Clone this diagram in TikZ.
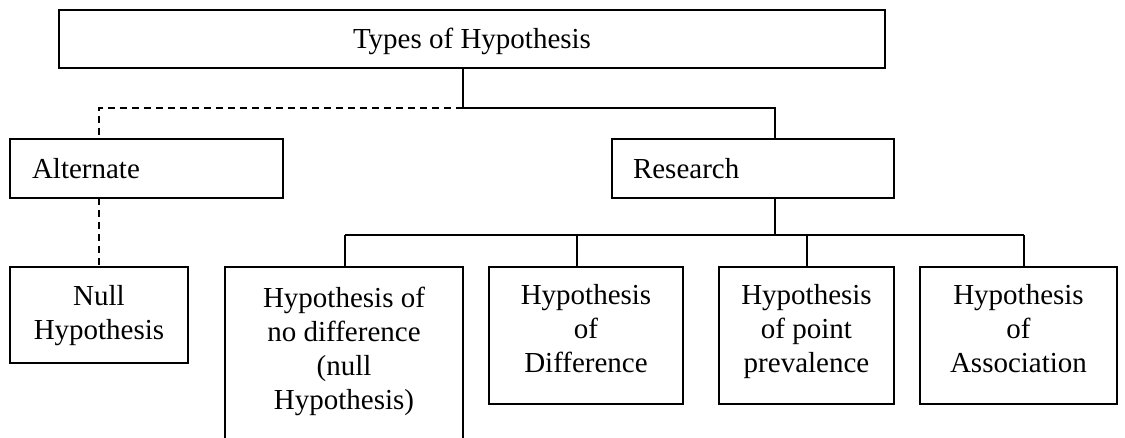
\documentclass[tikz,border=0pt]{standalone}
\usepackage{fontspec}
\setmainfont{Liberation Serif}
\usetikzlibrary{positioning}
\begin{document}
\begin{tikzpicture}[x=1pt,y=-1pt,
  every node/.style={font=\fontsize{29}{34}\selectfont},
  box/.style={draw=black, line width=1.7pt, rectangle, inner sep=0pt, outer sep=0pt},
  lbl/.style={inner sep=0pt, outer sep=0pt, align=center},
  link/.style={line width=1.3pt},
  dlink/.style={line width=1.3pt, dash pattern=on 7pt off 5pt}]
\useasboundingbox (0,0) rectangle (1125,438);

% root
\node[box, minimum width=826pt, minimum height=58pt, text height=20pt, text depth=0pt]
  (top) at (472,39) {Types of Hypothesis};

% second level
\node[box, minimum width=273pt, minimum height=59pt, text width=229pt, align=left, inner xsep=22pt]
  (alt) at (146.5,168.5) {Alternate};
\node[box, minimum width=282pt, minimum height=59pt, text width=240pt, align=left, inner xsep=21pt]
  (res) at (753,168.5) {Research};

% third level boxes
\node[box, minimum width=178pt, minimum height=96pt] (null) at (99,315) {};
\node[box, minimum width=238pt, minimum height=180pt] (b1) at (344,357) {};
\node[box, minimum width=194pt, minimum height=137pt] (b2) at (586,335.5) {};
\node[box, minimum width=175pt, minimum height=137pt] (b3) at (806.5,335.5) {};
\node[box, minimum width=197pt, minimum height=137pt] (b4) at (1018.5,335.5) {};

% their labels
\node[lbl, below=18pt of null.north] (t0) {Null\\Hypothesis};
\node[lbl, below=20pt of b1.north] (t1) {Hypothesis of\\no difference\\(null\\Hypothesis)};
\node[lbl, below=17.5pt of b2.north] (t2) {Hypothesis\\of\\Difference};
\node[lbl, below=17.5pt of b3.north] (t3) {Hypothesis\\of point\\prevalence};
\node[lbl, below=17.5pt of b4.north] (t4) {Hypothesis\\of\\Association};

% junctions
\coordinate (jt) at (463,108);
\coordinate (ja) at (99,108);
\coordinate (jr) at (775,108);
\coordinate (jb) at (775,235);
\coordinate (c1) at (345,235);
\coordinate (c2) at (577,235);
\coordinate (c3) at (807,235);
\coordinate (c4) at (1024,235);

% connectors
\draw[link] (top.south -| jt) -- (jt) -- (jr) -- (jr |- res.north);
\draw[dlink] (jt) -- (ja) -- (ja |- alt.north);
\draw[dlink] (null.north |- alt.south) -- (null.north);
\draw[link] (jb |- res.south) -- (jb);
\draw[link] (c1) -- (c4);
\foreach \i in {1,2,3,4} {
  \draw[link] (c\i) -- (c\i |- b\i.north);
}
\end{tikzpicture}
\end{document}
